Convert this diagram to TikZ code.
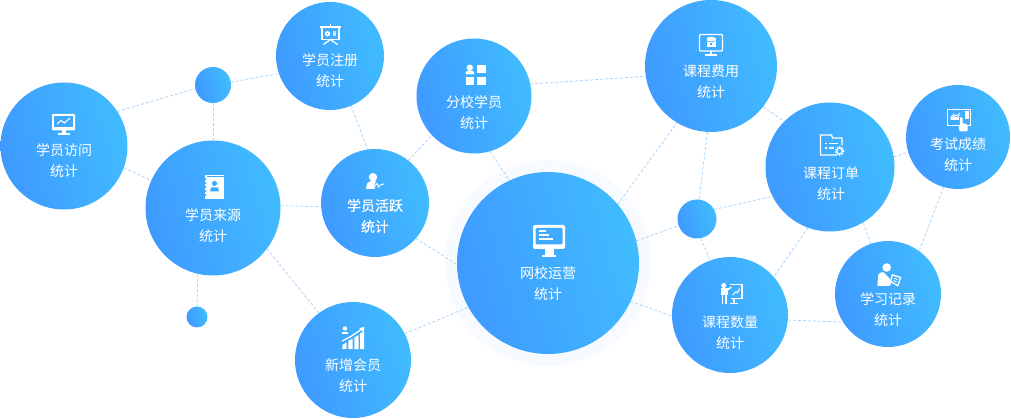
\documentclass[tikz,border=0pt]{standalone}
\usepackage{fontspec}
\setmainfont{Noto Sans CJK SC}
\newfontface\activefont[FakeBold=0.25]{Noto Sans CJK SC}
\usetikzlibrary{backgrounds}

\definecolor{statleft}{HTML}{3F9AFF}
\definecolor{statright}{HTML}{40BCFF}
\definecolor{iconblue}{HTML}{3FAAFF}
\definecolor{linkblue}{HTML}{A9D4FB}
\definecolor{haloblue}{HTML}{F7FBFF}

\tikzset{
  statcircle/.style={circle,inner sep=0pt,outer sep=0pt,left color=statleft,right color=statright,shading angle=105},
  statlabel/.style={align=center,text=white,inner sep=0pt,font=\fontsize{14}{21}\selectfont},
  iconline/.style={draw=white,line width=1.3pt},
  iconthin/.style={draw=white,line width=1pt},
  pics/visiticon/.style={code={
    \fill[white,rounded corners=1pt] (-11.5,-10) rectangle (11.5,6.5);
    \fill[iconblue] (-9.5,-8) rectangle (9.5,3);
    \fill[white] (-2,6) rectangle (2,9.5);
    \fill[white] (-6,9) rectangle (6,11);
    \draw[iconthin] (-6.5,0) -- (-2.5,-3.5) -- (1,-1) -- (6.5,-6);
  }},
  pics/sourceicon/.style={code={
    \fill[white] (-9,-12) rectangle (10,12);
    \draw[iconblue,line width=0.6pt] (-7,-10.5) -- (10,-10.5);
    \foreach \y in {-8,-4,0,4,8}
      \fill[iconblue] (-8.5,\y) circle (1);
    \fill[iconblue] (0.5,-3.5) circle (2.6);
    \fill[iconblue] (-4,4.5) -- (-3,0.5) -- (4,0.5) -- (5,4.5) -- cycle;
  }},
  pics/registericon/.style={code={
    \fill[white] (-10.5,-8) rectangle (10.5,-6);
    \fill[white] (-0.8,-10.5) rectangle (0.8,-7);
    \draw[iconline] (-8.5,-7) -- (-8.5,5) -- (8.5,5) -- (8.5,-7);
    \fill[white] (-3,-0.8) circle (2.7);
    \fill[iconblue] (-3,-0.8) circle (0.8);
    \fill[white!70!iconblue] (2,-3) rectangle (5,1.5);
    \draw[iconline] (-7,10) -- (0,5) -- (7,10);
  }},
  pics/activeicon/.style={code={
    \fill[white] (-2,-3.8) circle (4.2);
    \fill[white] (-9,8) .. controls (-8.5,2) and (-7,0.5) .. (-4,0) -- (1,0) -- (-1,5) -- (0,8) -- cycle;
    \draw[iconthin] (-1,6) -- (2,2.5) -- (3.5,6) -- (6,3.5) -- (9,3);
  }},
  pics/branchicon/.style={code={
    \fill[white] (1.3,-10) rectangle (10,-1.7);
    \fill[white] (-6.2,-7.3) circle (3.2);
    \fill[white] (-10.3,-0.7) -- (-10.3,-3) -- (-8,-4.3) -- (-4,-4.3) -- (-2,-3) -- (-2,-0.7) -- cycle;
    \fill[white] (-10.3,1.7) rectangle (-2,10);
    \fill[white] (1.3,1.7) rectangle (10,10);
  }},
  pics/newicon/.style={code={
    \fill[white] (-10.7,7) -- (-6.3,4.5) -- (-6.3,11) -- (-10.7,11) -- cycle;
    \fill[white] (-4.7,3) -- (-0.3,0.5) -- (-0.3,11) -- (-4.7,11) -- cycle;
    \fill[white] (1.3,-0.5) -- (5.7,-3) -- (5.7,11) -- (1.3,11) -- cycle;
    \fill[white] (7,-4.5) -- (11,-7) -- (11,11) -- (7,11) -- cycle;
    \draw[iconline] (-11,3) -- (-3,-1) -- (3,-5) -- (9,-9);
    \fill[white] (11.5,-11) -- (6,-10) -- (10.5,-6) -- cycle;
    \fill[white] (-8,-9.5) circle (2.2);
    \fill[white] (-11,-4.5) -- (-11,-6.5) -- (-5,-6.5) -- (-5,-4.5) -- cycle;
  }},
  pics/mainicon/.style={code={
    \fill[white,rounded corners=2pt] (-16,-16) rectangle (16,8);
    \fill[iconblue,rounded corners=1pt] (-13.5,-13) rectangle (13.5,3.3);
    \fill[white] (-9.7,-10.8) rectangle (-3,-9.2);
    \fill[white] (-9.7,-6.5) rectangle (0.3,-4.9);
    \fill[white] (-9.7,-2.5) rectangle (3.7,-0.9);
    \fill[white] (-4.5,8) rectangle (4.5,14);
    \fill[white] (-7,14) rectangle (7,16);
  }},
  pics/feeicon/.style={code={
    \draw[iconline,rounded corners=1pt] (-11.5,-10.5) rectangle (11.5,6);
    \fill[white] (-1,6) rectangle (1,9.5);
    \fill[white] (-6,9.5) rectangle (6,11);
    \fill[white] (-4.5,-6.5) rectangle (4.5,1.7);
    \fill[white] (0,-6.5) ellipse (4.5 and 1.6);
    \draw[iconblue,line width=0.6pt] (-4.5,-4.3) .. controls (-2,-3) and (2,-3) .. (4.5,-4.3);
    \fill[iconblue] (-1,-2) rectangle (1,0);
  }},
  pics/ordericon/.style={code={
    \draw[iconline] (5,9.5) -- (-11.5,9.5) -- (-11.5,-10.5) -- (-0.5,-10.5) -- (0.5,-7.5) -- (10,-7.5) -- (10,0);
    \fill[white] (-7.5,-2.5) rectangle (-5.5,-1);
    \fill[white] (-7.5,2) rectangle (-5.5,3.5);
    \fill[white] (-3.5,-2.5) rectangle (6,-1);
    \fill[white] (-3.5,2) rectangle (2,3.5);
    \draw[white,line width=1.2pt] (7.5,5.5) circle (2.8);
    \draw[white,line width=1.6pt,dash pattern=on 1.3pt off 1.3pt] (7.5,5.5) circle (4);
  }},
  pics/examicon/.style={code={
    \draw[iconline] (-11.5,-10.5) rectangle (11.5,5.5);
    \fill[white] (6,-9) rectangle (10,-1);
    \draw[iconthin] (-8.5,-2.5) -- (-5,-5.5) -- (-2,-4) -- (1,-7);
    \fill[white] (-8.5,0) -- (-8.5,-1.5) -- (-5,-4) -- (-2,-2.5) -- (1,-5) -- (1,0) -- cycle;
    \fill[iconblue] (-0.5,-3.5) rectangle (5,6);
    \fill[iconblue] (-1.5,6.2) rectangle (10,12);
    \fill[white,rounded corners=0.6pt] (0.8,-2.5) rectangle (3.7,7);
    \fill[white,rounded corners=1pt] (0.5,11.5) -- (-0.5,5.5) -- (3.7,3) -- (8.5,4.5) -- (8.5,11.5) -- cycle;
  }},
  pics/amounticon/.style={code={
    \fill[white] (-7.3,-8) circle (2.5);
    \fill[white] (-10.3,-5) rectangle (-3.5,2);
    \fill[white] (-3.5,-5) -- (0,-7) -- (0.7,-5.8) -- (-3.5,-2.5) -- cycle;
    \fill[white] (-9.5,2) rectangle (-7.6,10.7);
    \fill[white] (-6.4,2) rectangle (-4.5,10.7);
    \draw[iconline] (-1,-9.3) -- (11,-9.3) -- (11,5) -- (-0.5,5);
    \draw[iconline] (3,5) -- (3,10) (-1,10.3) -- (6.5,10.3);
    \draw[iconthin] (1.5,1.7) -- (5,-1.7) -- (6.5,-0.7) -- (8.5,-5);
  }},
  pics/recordicon/.style={code={
    \fill[white] (-2.3,-7) circle (4.3);
    \fill[white] (-11.7,11.3) -- (-10.7,0.3) .. controls (-9.5,-2) and (-7.5,-2.3) .. (-5.7,-2.3) -- (0.3,3.7) -- (2.7,7) -- (1,11.3) -- cycle;
    \draw[iconline,line join=round] (3.3,0.3) -- (11.7,3) -- (8.7,11.3) -- (1.7,7) -- cycle;
    \draw[iconthin] (5,3.5) -- (8.5,5) (4.5,6) -- (7.5,7.5);
  }}
}

\begin{document}
\begin{tikzpicture}[x=1pt,y=-1pt]
  \useasboundingbox (0,0) rectangle (1011,419);

  % circles
  \begin{scope}[every node/.style={statcircle}]
    \node[minimum size=127pt] (visit)    at (64,146)    {};
    \node[minimum size=135pt] (source)   at (213,208)   {};
    \node[minimum size=108pt] (register) at (330,56)    {};
    \node[minimum size=108pt] (active)   at (375,203)   {};
    \node[minimum size=115pt] (branch)   at (474,96)    {};
    \node[minimum size=116pt] (newmember) at (353,360)  {};
    \node[minimum size=182pt] (main)     at (548,263)   {};
    \node[minimum size=132pt] (fee)      at (711,66)    {};
    \node[minimum size=129pt] (order)    at (830,167)   {};
    \node[minimum size=104pt] (exam)     at (958,137)   {};
    \node[minimum size=116pt] (amount)   at (730,315)   {};
    \node[minimum size=106pt] (record)   at (888,294)   {};
    \node[minimum size=36pt]  (dota)     at (213,85)    {};
    \node[minimum size=21pt]  (dotb)     at (197,317)   {};
    \node[minimum size=39pt]  (dotc)     at (697,219)   {};
  \end{scope}

  % links go under the circles
  \begin{pgfonlayer}{background}
    \node[circle,fill=haloblue,minimum size=206pt,inner sep=0pt] (mainhalo) at (main) {};
    \begin{scope}[every edge/.style={draw=linkblue,line width=0.8pt,dash pattern=on 3pt off 2pt}]
      \path (visit.33)     edge (dota.192);
      \path (dota.9)       edge (register.199);
      \path (dota.south)   edge (source.north);
      \path (visit.-20)    edge (source.156);
      \path (source.2)     edge (active.184);
      \path (source.257)   edge (dotb.north);
      \path (source.-37)   edge (newmember.126);
      \path (register.-67) edge (active.98);
      \path (active.52)    edge (branch.223);
      \path (active.-41)   edge (main.181);
      \path (newmember.27) edge (main.209);
      \path (branch.-74)   edge (main.115);
      \path (branch.12)    edge (fee.189);
      \path (main.40)      edge (fee.239);
      \path (main.14)      edge (dotc.200);
      \path (main.-25)     edge (amount.181);
      \path (fee.267)      edge (dotc.84);
      \path (fee.-38)      edge (order.135);
      \path (dotc.29)      edge (order.207);
      \path (dotc.-79)     edge (amount.110);
      \path (order.9)      edge (exam.197);
      \path (order.250)    edge (amount.41);
      \path (order.-59)    edge (record.109);
      \path (exam.254)     edge (record.54);
      \path (amount.-5)    edge (record.212);
    \end{scope}
  \end{pgfonlayer}

  % texts
  \begin{scope}[every node/.style={statlabel}]
    \node (visitlabel)    at (64,161)    {学员访问\\统计};
    \node (sourcelabel)   at (213,226)   {学员来源\\统计};
    \node (registerlabel) at (330,71)    {学员注册\\统计};
    \node (activelabel)   at (375,216)   {\activefont 学员活跃\\\activefont 统计};
    \node (branchlabel)   at (474,113)   {分校学员\\统计};
    \node (newlabel)      at (353,376)   {新增会员\\统计};
    \node (mainlabel)     at (548,284)   {网校运营\\统计};
    \node (feelabel)      at (711,82)    {课程费用\\统计};
    \node (orderlabel)    at (831,184)   {课程订单\\统计};
    \node (examlabel)     at (958,154.5) {考试成绩\\统计};
    \node (amountlabel)   at (730,333)   {课程数量\\统计};
    \node (recordlabel)   at (888,310)   {学习记录\\统计};
  \end{scope}

  % icons
  \pic at (63.5,124)  {visiticon};
  \pic at (214,187)   {sourceicon};
  \pic at (330.5,34.5) {registericon};
  \pic at (375,181)   {activeicon};
  \pic at (476,75)    {branchicon};
  \pic at (353,338)   {newicon};
  \pic at (549,241)   {mainicon};
  \pic at (711,45)    {feeicon};
  \pic at (832,145.5) {ordericon};
  \pic at (959,120)   {examicon};
  \pic at (731,293.5) {amounticon};
  \pic at (889,274.5) {recordicon};
\end{tikzpicture}
\end{document}
